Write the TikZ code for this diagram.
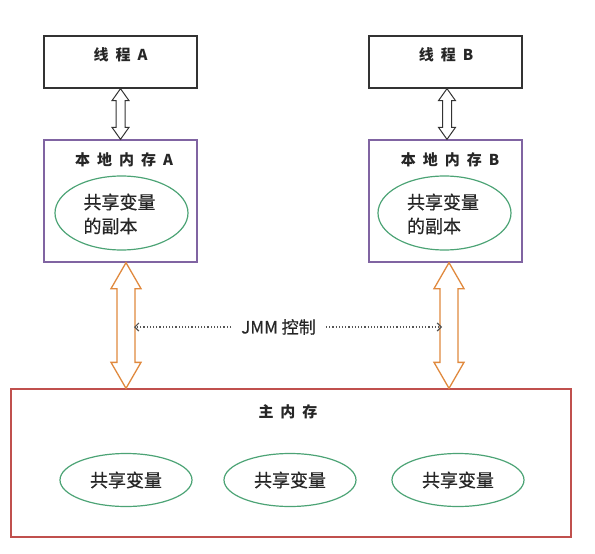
\documentclass[tikz,border=0pt]{standalone}
\usepackage{fontspec}
\setmainfont{Noto Sans CJK SC}
\newfontfamily\medfont[FakeBold=0.6]{Noto Sans CJK SC}
\usetikzlibrary{shapes.geometric,calc,arrows.meta}
\definecolor{boxblack}{HTML}{333333}
\definecolor{purp}{HTML}{8064A2}
\definecolor{grn}{HTML}{4CA375}
\definecolor{org}{HTML}{E0893E}
\definecolor{redb}{HTML}{C0504D}
\definecolor{dotg}{HTML}{555555}
\newcommand\dblarr[6]{%
 \draw[#1] let \p1=#2, \p2=#3 in (\x1,\y1) -- (\x1+#5,\y1-#6) -- (\x1+#4,\y1-#6) -- (\x2+#4,\y2+#6) -- (\x2+#5,\y2+#6) -- (\x2,\y2) -- (\x2-#5,\y2+#6) -- (\x2-#4,\y2+#6) -- (\x1-#4,\y1-#6) -- (\x1-#5,\y1-#6) -- cycle;}
\newcommand\gp{\hspace{7pt}}
\tikzset{
 threadbox/.style={draw=boxblack, line width=1.3pt, minimum width=153pt, minimum height=52pt, inner sep=0pt},
 localbox/.style={draw=purp, line width=1.3pt, minimum width=153pt, minimum height=122pt, inner sep=0pt},
 mainbox/.style={draw=redb, line width=1.3pt, minimum width=560pt, minimum height=148pt, inner sep=0pt},
 varell/.style={draw=grn, line width=1.2pt, ellipse, inner sep=0pt},
 title/.style={font=\fontsize{15}{18}\selectfont\bfseries, text=black!85, inner sep=0pt},
 vartext/.style={font=\fontsize{18}{24}\selectfont\medfont, text=black!85, align=left, inner sep=0pt},
 blackarr/.style={draw=boxblack, line width=1pt, fill=white, line join=miter},
 orangearr/.style={draw=org, line width=1.3pt, fill=white, line join=miter},
 dotarr/.style={draw=dotg, dotted, line width=1.2pt, -{Straight Barb[length=4pt,width=8pt]}},
}
\begin{document}
\begin{tikzpicture}[x=1pt,y=-1pt]
\useasboundingbox (0,0) rectangle (595,554);
% threads
\node[threadbox] (tA) at (120.5,62) {};
\node[threadbox] (tB) at (445.5,62) {};
\node[title] (tAt) at (120.5,55) {线\gp 程\gp A};
\node[title] (tBt) at (446,55) {线\gp 程\gp B};
% local memories
\node[localbox] (lA) at (120.5,201) {};
\node[localbox] (lB) at (445.5,201) {};
\node[title] (lAt) at (124,160) {本\gp 地\gp 内\gp 存\gp A};
\node[title] (lBt) at (450,160) {本\gp 地\gp 内\gp 存\gp B};
\node[varell, minimum width=133pt, minimum height=74pt] (eA) at (121.5,213) {};
\node[varell, minimum width=133pt, minimum height=74pt] (eB) at (444.5,213) {};
\node[vartext] (eAt) at (119.5,214) {共享变量\\的副本};
\node[vartext] (eBt) at (443,214) {共享变量\\的副本};
% main memory
\node[mainbox] (mm) at (291,463) {};
\node[title] (mmt) at (288,412) {主\gp 内\gp 存};
\node[varell, minimum width=132pt, minimum height=53pt, vartext] (v1) at (126,480) {共享变量};
\node[varell, minimum width=132pt, minimum height=53pt, vartext] (v2) at (290,480) {共享变量};
\node[varell, minimum width=132pt, minimum height=53pt, vartext] (v3) at (458,480) {共享变量};
% thread <-> local arrows
\dblarr{blackarr}{(tA.south)}{(lA.north)}{4.5pt}{8.5pt}{12pt}
\dblarr{blackarr}{($(tB.south)+(1.5,0)$)}{($(lB.north)+(1.5,0)$)}{4.5pt}{8.5pt}{12pt}
% local <-> main arrows
\coordinate (oA1) at (lA.south -| 126,0);
\coordinate (oA2) at (mm.north -| 126,0);
\coordinate (oB1) at (lB.south -| 449,0);
\coordinate (oB2) at (mm.north -| 449,0);
\dblarr{orangearr}{(oA1)}{(oA2)}{9pt}{15pt}{26pt}
\dblarr{orangearr}{(oB1)}{(oB2)}{9pt}{15pt}{26pt}
% JMM control
\node[font=\fontsize{17}{20}\selectfont\medfont, text=black!85, inner sep=10pt] (jmm) at (278.5,327) {JMM 控制};
\coordinate (jA) at (134,327);
\coordinate (jB) at (442,327);
\draw[dotarr] (jmm.west) -- (jA);
\draw[dotarr] (jmm.east) -- (jB);
\end{tikzpicture}
\end{document}
